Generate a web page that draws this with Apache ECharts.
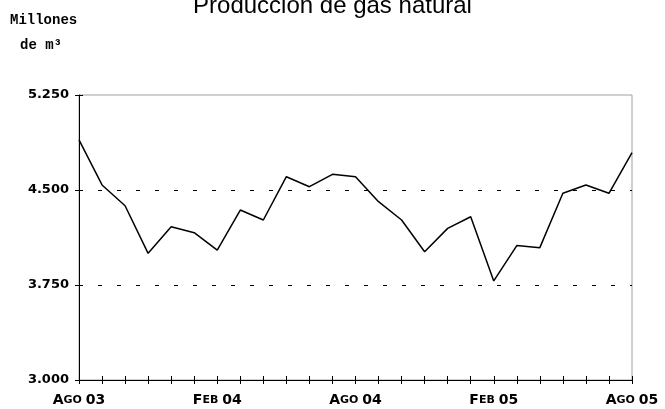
<!DOCTYPE html>
<html>
<head>
<meta charset="utf-8">
<script src="https://cdn.jsdelivr.net/npm/echarts@6/dist/echarts.min.js"></script>
<style>
  html, body { margin: 0; padding: 0; background: #fff; }
  #chart { width: 665px; height: 409px; }
</style>
</head>
<body>
<div id="chart"></div>
<script>
// meses (agosto 2003 - agosto 2005)
var months = ['Ago03', 'Sep03', 'Oct03', 'Nov03', 'Dic03', 'Ene04', 'Feb04', 'Mar04', 'Abr04',
  'May04', 'Jun04', 'Jul04', 'Ago04', 'Sep04', 'Oct04', 'Nov04', 'Dic04', 'Ene05', 'Feb05',
  'Mar05', 'Abr05', 'May05', 'Jun05', 'Jul05', 'Ago05'];
// produccion, millones de m3
var produccion = [4895, 4540, 4376, 4000, 4210, 4163, 4026, 4342, 4263, 4605, 4526, 4624, 4605,
  4408, 4263, 4013, 4197, 4289, 3782, 4061, 4045, 4474, 4539, 4474, 4795];
var yTicks = [3000, 3750, 4500, 5250];
var gridLevels = [3750, 4500];

var chart = echarts.init(document.getElementById('chart'));

function fmtMiles(v) {
  return String(v).replace(/\B(?=(\d{3})+$)/, '.');
}
// AGO 03 en versalitas
function fmtMes(v) {
  return '{b|' + v.charAt(0).toUpperCase() + '}{s|' + v.slice(1, 3).toUpperCase() + ' }{b|' + v.slice(3) + '}';
}

var yMin = yTicks[0], yMax = yTicks[yTicks.length - 1], yStep = yTicks[1] - yTicks[0];

chart.setOption({
  animation: false,
  title: {
    text: 'Producción de gas natural',
    left: 'center',
    top: -11,
    textStyle: { fontFamily: 'Liberation Sans', fontSize: 24, fontWeight: 'normal', color: '#000' }
  },
  graphic: [
    {
      type: 'text', left: 10, top: 13,
      style: { text: 'Millones', font: 'bold 14px "Liberation Mono"', fill: '#000' }
    },
    {
      type: 'text', left: 20, top: 38,
      style: { text: 'de m³', font: 'bold 14px "Liberation Mono"', fill: '#000' }
    }
  ],
  grid: {
    left: 79, right: 33, top: 95, bottom: 29,
    show: true, borderColor: '#a0a0a0', borderWidth: 1
  },
  xAxis: [
    {
      type: 'category',
      data: months,
      boundaryGap: false,
      axisLine: { lineStyle: { color: '#000', width: 1 } },
      axisTick: { length: 4, interval: 0, lineStyle: { color: '#000' } },
      axisLabel: {
        interval: 5,
        margin: 13,
        color: '#000',
        formatter: fmtMes,
        rich: {
          b: { fontFamily: 'DejaVu Sans', fontWeight: 'bold', fontSize: 14, color: '#000' },
          s: { fontFamily: 'DejaVu Sans', fontWeight: 'bold', fontSize: 11, color: '#000' }
        }
      },
      splitLine: { show: false }
    },
    {
      type: 'category',
      data: months,
      boundaryGap: false,
      position: 'bottom',
      axisLine: { show: false },
      axisTick: { inside: true, length: 4, interval: 0, lineStyle: { color: '#000' } },
      axisLabel: { show: false },
      splitLine: { show: false }
    }
  ],
  yAxis: [
    {
      type: 'value',
      min: yMin, max: yMax, interval: yStep,
      axisLine: { show: true, lineStyle: { color: '#000', width: 1 } },
      axisTick: { show: true, length: 4, lineStyle: { color: '#000' } },
      axisLabel: {
        margin: 10,
        color: '#000',
        fontFamily: 'DejaVu Sans',
        fontWeight: 'bold',
        fontSize: 13,
        formatter: fmtMiles
      },
      splitLine: { show: false }
    },
    {
      type: 'value',
      min: yMin, max: yMax, interval: yStep,
      position: 'left',
      axisLine: { show: false },
      axisTick: { show: true, inside: true, length: 4, lineStyle: { color: '#000' } },
      axisLabel: { show: false },
      splitLine: { show: false }
    }
  ],
  series: [
    {
      type: 'line',
      data: produccion,
      xAxisIndex: 0,
      yAxisIndex: 0,
      symbol: 'none',
      lineStyle: { color: '#000', width: 1.5 },
      markLine: {
        silent: true,
        symbol: ['none', 'none'],
        label: { show: false },
        lineStyle: { color: '#000', width: 1, type: [4, 15] },
        data: gridLevels.map(function (v) { return { yAxis: v }; })
      }
    }
  ]
});

window.addEventListener('resize', function () {
  chart.resize();
});
</script>
</body>
</html>
